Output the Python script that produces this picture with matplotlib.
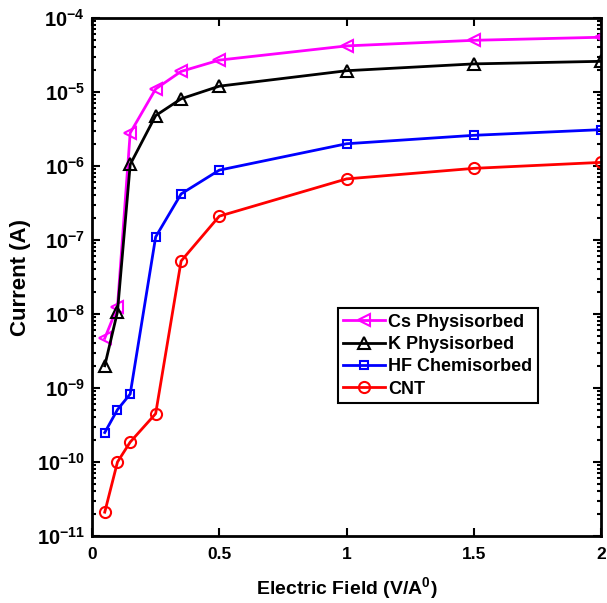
import matplotlib
matplotlib.use('Agg')
import matplotlib.pyplot as plt
from matplotlib.ticker import LogLocator, FuncFormatter, NullFormatter
import numpy as np

plt.rcParams['font.family'] = 'Liberation Sans'
plt.rcParams['font.weight'] = 'bold'
plt.rcParams['mathtext.fontset'] = 'custom'
plt.rcParams['mathtext.rm'] = 'Liberation Sans:bold'
plt.rcParams['mathtext.bf'] = 'Liberation Sans:bold'
plt.rcParams['mathtext.it'] = 'Liberation Sans:bold'

field = [0.05, 0.1, 0.15, 0.25, 0.35, 0.5, 1.0, 1.5, 2.0]
cs = [4.7e-9, 1.25e-8, 2.8e-6, 1.1e-5, 1.9e-5, 2.7e-5, 4.2e-5, 5.0e-5, 5.5e-5]
k = [2.0e-9, 1.07e-8, 1.05e-6, 4.8e-6, 8.1e-6, 1.2e-5, 1.94e-5, 2.4e-5, 2.6e-5]
hf = [2.5e-10, 5.1e-10, 8.3e-10, 1.1e-7, 4.2e-7, 8.8e-7, 2.0e-6, 2.6e-6, 3.1e-6]
cnt = [2.1e-11, 1.0e-10, 1.86e-10, 4.5e-10, 5.2e-8, 2.1e-7, 6.7e-7, 9.3e-7, 1.12e-6]

fig = plt.figure(figsize=(6.07, 6.03), dpi=100)
ax = fig.add_axes([0.1516, 0.1111, 0.8386, 0.859])

ax.plot(field, cs, '-<', color='magenta', lw=2, ms=8, mfc='none', mew=1.5, label='Cs Physisorbed')
ax.plot(field, k, '-^', color='black', lw=2, ms=8, mfc='none', mew=1.5, label='K Physisorbed')
ax.plot(field, hf, '-s', color='blue', lw=2, ms=6, mfc='none', mew=1.5, label='HF Chemisorbed')
ax.plot(field, cnt, '-o', color='red', lw=2, ms=8, mfc='none', mew=1.5, label='CNT')

ax.set_yscale('log')
ax.set_xlim(0, 2)
ax.set_ylim(1e-11, 1e-4)
ax.set_xticks([0, 0.5, 1, 1.5, 2])
ax.set_xticklabels(['0', '0.5', '1', '1.5', '2'])
ax.yaxis.set_major_locator(LogLocator(base=10, numticks=20))
ax.yaxis.set_minor_locator(LogLocator(base=10, subs=np.arange(2, 10), numticks=20))
ax.yaxis.set_minor_formatter(NullFormatter())
ax.yaxis.set_major_formatter(FuncFormatter(lambda v, p: r'$10^{%d}$' % round(np.log10(v))))

ax.tick_params(which='both', direction='in', top=True, right=True, width=1.5)
ax.tick_params(which='major', length=6)
ax.tick_params(which='minor', length=3)
ax.tick_params(axis='x', labelsize=12.5, pad=8)
ax.tick_params(axis='y', labelsize=14.5, pad=5)
for s in ax.spines.values():
    s.set_linewidth(2)

ax.set_xlabel(r'Electric Field (V/A$^0$)', fontsize=14, fontweight='bold', labelpad=9)
ax.set_ylabel('Current (A)', fontsize=16, fontweight='bold', labelpad=4)

leg = ax.legend(loc='upper left', bbox_to_anchor=(0.483, 0.44), fontsize=13,
                fancybox=False, framealpha=1, edgecolor='black',
                handlelength=2.3, handletextpad=0.2, borderpad=0.3, labelspacing=0.3,
                borderaxespad=0)
leg.get_frame().set_linewidth(1.5)

fig.savefig('out.png', dpi=100)
